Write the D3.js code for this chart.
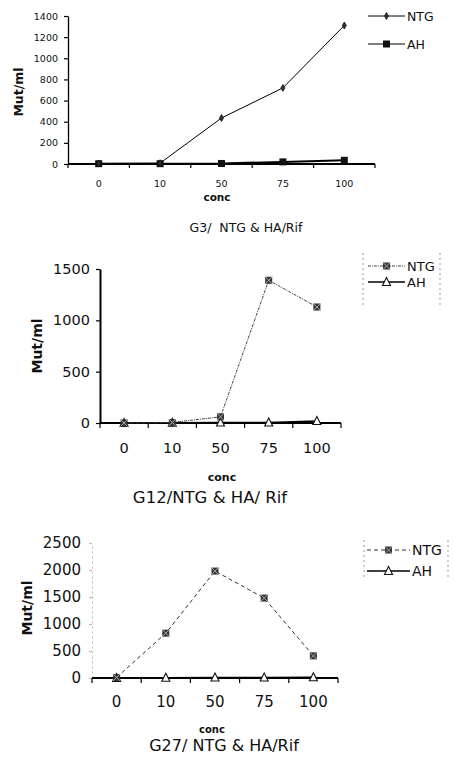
<!DOCTYPE html>
<html><head><meta charset="utf-8">
<script src="https://cdn.jsdelivr.net/npm/d3@7"></script>
<style>body{margin:0;background:#fff}svg{display:block}text.title{white-space:pre}</style>
</head><body>
<svg id="c" width="454" height="765"></svg>
<script>
const categories = ["0","10","50","75","100"];
const g3NTG = [5, 8, 435, 720, 1310];
const g3AH = [3, 3, 5, 20, 35];
const g3Ticks = [0,200,400,600,800,1000,1200,1400];
const g12NTG = [0, 5, 60, 1390, 1130];
const g12AH = [0, 3, 5, 5, 20];
const g12Ticks = [0,500,1000,1500];
const g27NTG = [10, 830, 1980, 1480, 410];
const g27AH = [0, 5, 10, 10, 15];
const g27Ticks = [0,500,1000,1500,2000,2500];
const titles = ["G3/  NTG & HA/Rif","G12/NTG & HA/ Rif","G27/ NTG & HA/Rif"];
const seriesNames = ["NTG","AH"];

const svg = d3.select("#c");
const FONT = "'DejaVu Sans', sans-serif";

function symbol(g, type, x, y, s){
  if(type==="dot"){
    g.append("path").attr("d", d3.symbol(d3.symbolDiamond, 14)()).attr("transform",`translate(${x},${y})`).attr("fill","#333").attr("stroke","#111").attr("stroke-width",0.8);
  } else if(type==="sq"){
    g.append("rect").attr("x",x-s/2).attr("y",y-s/2).attr("width",s).attr("height",s).attr("fill","#111");
  } else if(type==="sqx"){
    g.append("rect").attr("x",x-s/2).attr("y",y-s/2).attr("width",s).attr("height",s).attr("fill","#333");
    g.append("path").attr("d",`M${x-s/2},${y-s/2}L${x+s/2},${y+s/2}M${x+s/2},${y-s/2}L${x-s/2},${y+s/2}`).attr("stroke","#aaa").attr("stroke-width",1);
  } else if(type==="tri"){
    g.append("path").attr("d",`M${x},${y-s/2-1}L${x+s/2+0.5},${y+s/2}L${x-s/2-0.5},${y+s/2}Z`).attr("fill","#fff").attr("stroke","#111").attr("stroke-width",1.1);
  }
}

function chart(cfg){
  const g = svg.append("g");
  const x = d3.scaleBand().domain(categories).range([cfg.x0, cfg.x1]);
  const y = d3.scaleLinear().domain([0, cfg.ticks[cfg.ticks.length-1]]).range([cfg.yZero, cfg.yTop]);
  const cx = c => x(c) + x.bandwidth()/2;

  const ya = d3.axisLeft(y).tickValues(cfg.ticks).tickFormat(d3.format("d")).tickSize(cfg.yTick).tickSizeOuter(0).tickPadding(cfg.yPad);
  const yg = g.append("g").attr("transform",`translate(${cfg.x0},0)`).call(ya);
  yg.select(".domain").attr("stroke", cfg.yAxisColor).attr("stroke-width", cfg.yAxisW).attr("stroke-dasharray", cfg.yDash || null);
  yg.selectAll(".tick line").attr("stroke", cfg.yAxisColor).attr("stroke-width",1.2);
  yg.selectAll(".tick text").attr("font-family",FONT).attr("font-size",cfg.tickFont).attr("fill","#111");

  const xg = g.append("g");
  xg.append("line").attr("x1",cfg.x0).attr("x2",cfg.x1).attr("y1",cfg.yZero).attr("y2",cfg.yZero).attr("stroke","#000").attr("stroke-width",cfg.xAxisW);
  const bounds = [cfg.x0].concat(categories.map(c => x(c)+x.bandwidth()));
  xg.selectAll("line.bt").data(bounds).enter().append("line").attr("class","bt")
    .attr("x1",d=>d).attr("x2",d=>d).attr("y1",cfg.yZero).attr("y2",cfg.yZero+cfg.xTick).attr("stroke","#000").attr("stroke-width",1.2);
  xg.selectAll("text").data(categories).enter().append("text")
    .attr("x",cx).attr("y",cfg.labelY).attr("text-anchor","middle").attr("dominant-baseline","central")
    .attr("font-family",FONT).attr("font-size",cfg.tickFont).attr("fill","#111").text(d=>d);

  const line = d3.line().x((d,i)=>cx(categories[i])).y(d=>y(d));
  g.append("path").datum(cfg.ah).attr("d",line).attr("fill","none").attr("stroke","#000").attr("stroke-width",cfg.ahW);
  g.append("path").datum(cfg.ntg).attr("d",line).attr("fill","none").attr("stroke",cfg.ntgColor).attr("stroke-width",cfg.ntgW).attr("stroke-dasharray",cfg.ntgDash||null);
  cfg.ah.forEach((v,i)=>symbol(g,cfg.ahSym,cx(categories[i]),y(v),cfg.symS));
  cfg.ntg.forEach((v,i)=>symbol(g,cfg.ntgSym,cx(categories[i]),y(v),cfg.symS));

  g.append("text").attr("transform",`translate(${cfg.yLabX},${cfg.yLabY}) rotate(-90)`).attr("text-anchor","middle").attr("dominant-baseline","central")
    .attr("font-family",FONT).attr("font-weight","bold").attr("font-size",cfg.yLabFont).attr("fill","#111").text("Mut/ml");
  g.append("text").attr("x",cfg.concX).attr("y",cfg.concY).attr("text-anchor","middle").attr("dominant-baseline","central")
    .attr("font-family",FONT).attr("font-weight","bold").attr("font-size",cfg.concFont).attr("fill","#111").text("conc");
  g.append("text").attr("class","title").attr("x",cfg.titleX).attr("y",cfg.titleY).attr("text-anchor","middle").attr("dominant-baseline","central")
    .attr("xml:space","preserve")
    .attr("font-family",FONT).attr("font-size",cfg.titleFont).attr("fill","#111").text(cfg.title);

  const lg = g.append("g");
  if(cfg.legBox){
    lg.append("line").attr("x1",cfg.legBox[0]).attr("x2",cfg.legBox[0]).attr("y1",cfg.legBox[1]).attr("y2",cfg.legBox[2]).attr("stroke","#999").attr("stroke-dasharray","2,3");
    lg.append("line").attr("x1",cfg.legBox[3]).attr("x2",cfg.legBox[3]).attr("y1",cfg.legBox[1]).attr("y2",cfg.legBox[2]).attr("stroke","#999").attr("stroke-dasharray","2,3");
  }
  const legItems = [
    {name:seriesNames[0], sym:cfg.ntgSym, color:cfg.ntgColor, dash:cfg.ntgDash, w:cfg.ntgW, yy:cfg.legY[0]},
    {name:seriesNames[1], sym:cfg.ahSym, color:"#000", dash:null, w:cfg.legAhW||cfg.ahW, yy:cfg.legY[1]}
  ];
  legItems.forEach(it=>{
    lg.append("line").attr("x1",cfg.legX0).attr("x2",cfg.legX1).attr("y1",it.yy).attr("y2",it.yy).attr("stroke",it.color).attr("stroke-width",it.w).attr("stroke-dasharray",it.dash||null);
    symbol(lg,it.sym,(cfg.legX0+cfg.legX1)/2,it.yy,cfg.symS);
    lg.append("text").attr("x",cfg.legX1+2).attr("y",it.yy).attr("dominant-baseline","central")
      .attr("font-family",FONT).attr("font-size",cfg.legFont).attr("fill","#111").text(it.name);
  });
}

chart({x0:68,x1:375,yZero:164,yTop:16,ticks:g3Ticks,ntg:g3NTG,ah:g3AH,
  yTick:4,yPad:6,yAxisColor:"#000",yAxisW:1.3,tickFont:9.5,xAxisW:2,xTick:4,labelY:183,
  ntgColor:"#000",ntgW:1,ntgDash:null,ahW:2,legAhW:1.2,ntgSym:"dot",ahSym:"sq",symS:7,
  yLabX:18,yLabY:92,yLabFont:12.5,concX:217,concY:197,concFont:10.5,
  titleX:246,titleY:227,titleFont:12.5,title:titles[0],
  legX0:368,legX1:405,legY:[16,44],legFont:12.5,legBox:null});

chart({x0:100,x1:341,yZero:423,yTop:269,ticks:g12Ticks,ntg:g12NTG,ah:g12AH,
  yTick:4,yPad:6,yAxisColor:"#000",yAxisW:2,tickFont:14.5,xAxisW:2,xTick:5,labelY:448,
  ntgColor:"#444",ntgW:1,ntgDash:"3,1,1,1",ahW:1.5,ntgSym:"sqx",ahSym:"tri",symS:7,
  yLabX:37,yLabY:346,yLabFont:14,concX:222,concY:477,concFont:11,
  titleX:210,titleY:497,titleFont:16.5,title:titles[1],
  legX0:368,legX1:405,legY:[266,282],legFont:13,legBox:[363,253,305,440]});

chart({x0:92,x1:338,yZero:678,yTop:543,ticks:g27Ticks,ntg:g27NTG,ah:g27AH,
  yTick:3,yPad:8,yAxisColor:"#bbb",yAxisW:1,yDash:"2,3",tickFont:15,xAxisW:2,xTick:5,labelY:702,
  ntgColor:"#333",ntgW:1,ntgDash:"4,3",ahW:1.5,ntgSym:"sqx",ahSym:"tri",symS:7,
  yLabX:27,yLabY:608,yLabFont:14,concX:212,concY:729,concFont:10,
  titleX:224,titleY:745,titleFont:16,title:titles[2],
  legX0:367,legX1:410,legY:[550,571],legFont:14,legBox:[364,540,580,448]});
</script>
</body></html>
